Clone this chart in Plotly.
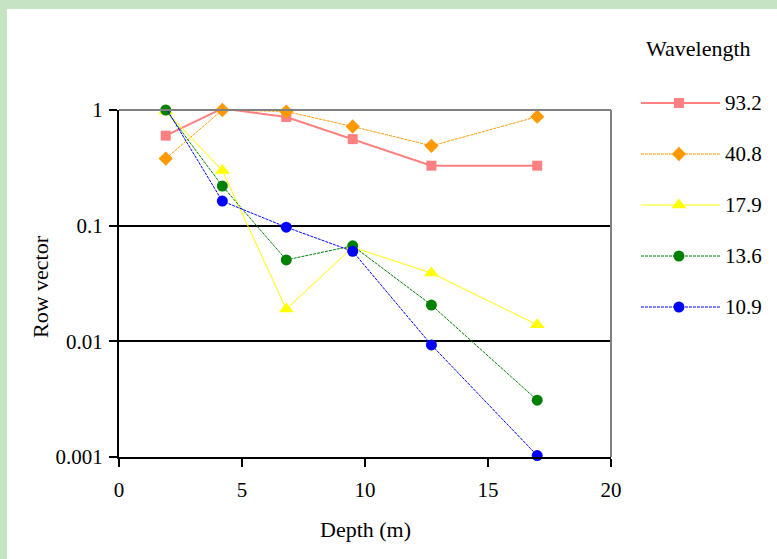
import plotly.graph_objects as go

depth = [1.9, 4.2, 6.8, 9.5, 12.7, 17.0]
wavelengths = ["93.2", "40.8", "17.9", "13.6", "10.9"]
v_93_2 = [0.60, 1.03, 0.87, 0.56, 0.33, 0.33]
v_40_8 = [0.38, 1.00, 0.97, 0.72, 0.49, 0.875]
v_17_9 = [0.98, 0.30, 0.019, 0.065, 0.039, 0.0139]
v_13_6 = [1.00, 0.22, 0.0506, 0.067, 0.0206, 0.0031]
v_10_9 = [1.05, 0.163, 0.097, 0.060, 0.0093, 0.00103]
series = [v_93_2, v_40_8, v_17_9, v_13_6, v_10_9]

colors = ["#FF8080", "#FF9900", "#FFFF00", "#008000", "#0000FF"]
symbols = ["square", "diamond", "triangle-up", "circle", "circle"]
msizes = [10, 11, 13, 11, 11]
widths = [2, 1, 1, 1, 1]
dashes = ["solid", "3px,1px", "solid", "3px,1px", "3px,1px"]

FONT = "Liberation Serif, Times New Roman, serif"
FS = 21
FT = 22

fig = go.Figure()
for name, vals, c, s, ms, w, d in zip(wavelengths, series, colors, symbols, msizes, widths, dashes):
    fig.add_trace(go.Scatter(x=depth, y=vals, mode="lines+markers", name=name,
                             line=dict(color=c, width=w, dash=d),
                             marker=dict(symbol=s, size=ms, color=c),
                             showlegend=False, cliponaxis=False))

for i, (name, c, s, ms, w, d) in enumerate(zip(wavelengths, colors, symbols, msizes, widths, dashes)):
    fig.add_trace(go.Scatter(x=[0, 1], y=[i, i], mode="lines", line=dict(color=c, width=w, dash=d),
                             xaxis="x2", yaxis="y2", showlegend=False, hoverinfo="skip"))
    fig.add_trace(go.Scatter(x=[0.48], y=[i], mode="markers", marker=dict(symbol=s, size=ms, color=c),
                             xaxis="x2", yaxis="y2", showlegend=False, hoverinfo="skip"))
    fig.add_annotation(x=1, y=i, xref="x2", yref="y2", text=name, showarrow=False,
                       xanchor="left", yanchor="middle", xshift=3,
                       font=dict(family=FONT, size=FS, color="black"))

# paper: left 119, right 777 (w 658); top 90, bottom 457 (h 367)
W, H, L, T, B = 658.0, 367.0, 119.0, 90.0, 457.0
def px(x):
    return (x - L) / W
def py(y):
    return (B - y) / H

fig.update_layout(
    width=777, height=559, autosize=False,
    margin=dict(l=119, r=0, t=90, b=102, pad=0),
    paper_bgcolor="#ffffff", plot_bgcolor="white",
    font=dict(family=FONT, size=FS, color="black"),
    xaxis=dict(domain=[0, px(611)], range=[0, 20], dtick=5, tick0=0, showgrid=False, zeroline=False,
               showline=True, linecolor="black", linewidth=2, ticks="outside", ticklen=8,
               tickwidth=2, tickcolor="black", tickfont=dict(size=FS), automargin=False,
               ticklabelstandoff=5),
    yaxis=dict(domain=[0, py(110)], type="log", range=[-3, 0],
               tickvals=[0.001, 0.01, 0.1, 1], ticktext=["0.001", "0.01", "0.1", "1"],
               showgrid=True, gridcolor="black", gridwidth=2, zeroline=False,
               showline=True, linecolor="black", linewidth=2, ticks="outside", ticklen=8,
               tickwidth=2, tickcolor="black", tickfont=dict(size=FS), automargin=False,
               ticklabelstandoff=2),
    xaxis2=dict(domain=[px(641), px(720)], range=[0, 1], visible=False, anchor="y2"),
    yaxis2=dict(domain=[py(330), py(90)], range=[(330 - 103) / 51.0, (90 - 103) / 51.0],
                visible=False, anchor="x2"),
    showlegend=False,
)

shapes = [
    dict(type="line", xref="x domain", yref="y domain", x0=0, x1=1, y0=1, y1=1,
         line=dict(color="#808080", width=2), layer="above"),
    dict(type="line", xref="x domain", yref="y domain", x0=1, x1=1, y0=0, y1=1,
         line=dict(color="#808080", width=2), layer="above"),
    dict(type="rect", xref="paper", yref="paper", x0=px(0), x1=px(777), y0=py(9), y1=py(0),
         fillcolor="#c6e4c4", line=dict(width=0), layer="below"),
    dict(type="rect", xref="paper", yref="paper", x0=px(0), x1=px(7), y0=py(559), y1=py(0),
         fillcolor="#c6e4c4", line=dict(width=0), layer="below"),
]
fig.update_layout(shapes=shapes)

fig.add_annotation(x=px(698), y=py(48), xref="paper", yref="paper", text="Wavelength",
                   xanchor="center", yanchor="middle",
                   showarrow=False, font=dict(family=FONT, size=FT, color="black"))
fig.add_annotation(x=px(40), y=py(287), xref="paper", yref="paper", text="Row vector",
                   xanchor="center", yanchor="middle",
                   showarrow=False, textangle=-90, font=dict(family=FONT, size=FT, color="black"))
fig.add_annotation(x=px(365), y=py(529), xref="paper", yref="paper", text="Depth (m)",
                   xanchor="center", yanchor="middle",
                   showarrow=False, font=dict(family=FONT, size=FT, color="black"))

fig.write_html("out.html", config={"responsive": False})
